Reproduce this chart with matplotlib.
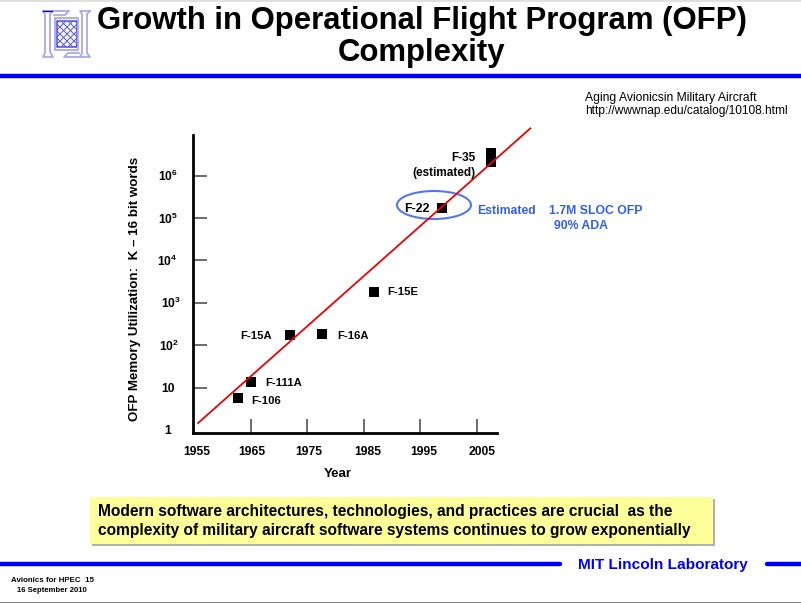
import numpy as np
import matplotlib
matplotlib.use("Agg")
import matplotlib.pyplot as plt
from matplotlib.patches import Ellipse, Rectangle

plt.rcParams["font.family"] = ["Liberation Sans", "DejaVu Sans"]
plt.rcParams["mathtext.fontset"] = "custom"
plt.rcParams["mathtext.bf"] = "Liberation Sans:bold"
plt.rcParams["mathtext.rm"] = "Liberation Sans:bold"

W, H = 801, 603

aircraft = ["F-106", "F-111A", "F-15A", "F-16A", "F-15E", "F-22"]
years = [1962.8, 1965.0, 1971.9, 1977.6, 1986.9, 1998.9]
memory = [5.7, 13.5, 174, 184, 1800, 172000]

f35_years = [2007.5, 2007.5]
f35_memory = [3500000, 2100000]

trend_years = [1955.7, 2014.5]
trend_memory = [1.46, 13000000]

x_ticks = [1955, 1965, 1975, 1985, 1995, 2005]
y_ticks = [1, 10, 100, 1000, 10000, 100000, 1000000]
y_labels = ["1", "10", r"$\mathbf{10^2}$", r"$\mathbf{10^3}$", r"$\mathbf{10^4}$",
            r"$\mathbf{10^5}$", r"$\mathbf{10^6}$"]

# label offsets from the marker, in pixels
label_pos = {
    "F-106": (13, -3, "left"),
    "F-111A": (15, -1, "left"),
    "F-15A": (-18, -1, "right"),
    "F-16A": (15, -2, "left"),
    "F-15E": (13, 0, "left"),
    "F-22": (-13, -1, "right"),
}
# the slide's tick labels drift right of their ticks, pixels
x_label_shift = [3, 1, 2, 4, 4, 5]
y_label_x = [-25, -25, -24, -22, -26, -25, -25]

BLUE = "#0000ff"
SOFT_BLUE = "#2f5ff0"

fig = plt.figure(figsize=(W / 100, H / 100), dpi=100)

# slide furniture, drawn in pixel coordinates
bg = fig.add_axes([0, 0, 1, 1])
bg.set_xlim(0, W)
bg.set_ylim(H, 0)
bg.axis("off")

bg.add_patch(Rectangle((0, 0), W, 2, color="#e0e0e0", lw=0))
bg.add_patch(Rectangle((0, 601.5), W, 1.5, color="#808080", lw=0))
bg.plot([0, W], [76, 76], color=BLUE, lw=3.2, solid_capstyle="butt")
bg.plot([0, 560], [564, 564], color=BLUE, lw=3.2, solid_capstyle="round")
bg.plot([767, W + 5], [564, 564], color=BLUE, lw=3.2, solid_capstyle="round")

# logo
pale = "#a8a8f0"
for pts in [
    [(43, 11), (53, 11), (50, 14), (50, 52), (53, 57), (43, 57), (45, 53), (45, 14), (43, 11)],
    [(90, 11), (80, 11), (82, 14), (82, 53), (80, 57), (90, 57), (87, 53), (87, 14), (90, 11)],
    [(53, 11), (69, 11), (65, 15), (54, 15)],
    [(80, 57), (64, 57), (68, 53), (79, 53)],
    [(55, 18), (78, 18), (78, 50), (55, 50), (55, 18)],
]:
    xs, ys = zip(*pts)
    bg.plot(xs, ys, color=pale, lw=1.3)
lattice_box = Rectangle((57, 21), 20, 26, fill=False, ec="#5050e8", lw=1.1)
bg.add_patch(lattice_box)
for k in range(-3, 4):
    for sign in [-1, 1]:
        ln, = bg.plot([57, 77], [34 + k * 7 - sign * 10, 34 + k * 7 + sign * 10],
                      color="#5050e8", lw=0.7)
        ln.set_clip_path(lattice_box)
bg.plot([43, 52], [11, 11], color=BLUE, lw=0.9)
bg.set_xlim(0, W)
bg.set_ylim(H, 0)

bg.text(421.5, 21, "Growth in Operational Flight Program (OFP)", fontsize=22.4, fontweight="bold",
        ha="center", va="center")
bg.text(421.5, 53.5, "Complexity", fontsize=22.4, fontweight="bold", ha="center", va="center")

bg.text(585, 98, "Aging Avionicsin Military Aircraft", fontsize=8.7, va="center")
bg.text(585, 111, "http://wwwnap.edu/catalog/10108.html", fontsize=8.6, va="center")

# callout box
bg.add_patch(Rectangle((92, 499), 623, 47, color="#b0b0b0", lw=0))
bg.add_patch(Rectangle((90, 497), 623, 47, color="#ffff99", lw=0))
bg.text(98, 511.5, "Modern software architectures, technologies, and practices are crucial  as the",
        fontsize=11.2, fontweight="bold", va="center")
bg.text(98, 531, "complexity of military aircraft software systems continues to grow exponentially",
        fontsize=11.2, fontweight="bold", va="center")

bg.text(662.5, 565, "MIT Lincoln Laboratory", color=BLUE, fontsize=11.1, fontweight="bold",
        ha="center", va="center")
bg.text(11, 580, "Avionics for HPEC  15", fontsize=5.7, fontweight="bold", va="center")
bg.text(17, 591, "16 September 2010", fontsize=5.6, fontweight="bold", va="center")

# F-22 callout
bg.add_patch(Ellipse((434, 205), 74, 28, fill=False, ec="#5577ee", lw=1.5))
bg.text(477, 211, "Estimated", color=SOFT_BLUE, fontsize=8.8, fontweight="bold", va="center")
bg.text(549, 211, "1.7M SLOC OFP", color=SOFT_BLUE, fontsize=8.8, fontweight="bold", va="center")
bg.text(554, 226, "90% ADA", color=SOFT_BLUE, fontsize=8.8, fontweight="bold", va="center")

# the chart itself
left, right, top, bottom = 193, 497, 135, 433
ax = fig.add_axes([left / W, 1 - bottom / H, (right - left) / W, (bottom - top) / H])
ax.patch.set_alpha(0)
ax.set_yscale("log")
ax.set_xlim(1954.8, 2008.6)
ax.set_ylim(10 ** (-3 / 42.4), 10 ** (295 / 42.4))

ax.plot(trend_years, trend_memory, color="#f00000", lw=1.3, clip_on=False, zorder=3)
ax.plot(years, memory, "s", color="black", ms=7, mew=0, zorder=2)
ax.plot(f35_years, f35_memory, "s", color="black", ms=7.6, mew=0, zorder=2)

for name, x, y in zip(aircraft, years, memory):
    dx, dy, ha = label_pos[name]
    ax.annotate(name, (x, y), xytext=(dx, dy), textcoords="offset pixels", ha=ha, va="center",
                fontsize=8.1 if name != "F-22" else 8.9, fontweight="bold")
ax.annotate("F-35\n(estimated)", (f35_years[0], f35_memory[0]), xytext=(-15, -13),
            textcoords="offset pixels", ha="right", va="center", fontsize=8.5,
            fontweight="bold", linespacing=1.25)

for side in ["top", "right"]:
    ax.spines[side].set_visible(False)
for side in ["left", "bottom"]:
    ax.spines[side].set_linewidth(2)

ax.set_xticks(x_ticks[1:])
ax.set_yticks(y_ticks[1:])
ax.minorticks_off()
ax.set_xticklabels([])
ax.set_yticklabels([])
ax.tick_params(axis="both", direction="in", length=10, width=1.3, color="#606060")

for v, shift in zip(x_ticks, x_label_shift):
    ax.annotate(str(v), (v, 10 ** (-3 / 42.4)), xytext=(shift, -19), textcoords="offset pixels",
                ha="center", va="center", fontsize=8.7, fontweight="bold", annotation_clip=False)
for v, lab, dx in zip(y_ticks, y_labels, y_label_x):
    ax.annotate(lab, (1954.8, v), xytext=(dx, -1), textcoords="offset pixels",
                ha="center", va="center", fontsize=8.7, fontweight="bold", annotation_clip=False)

bg.text(338, 474, "Year", fontsize=9.5, fontweight="bold", ha="center", va="center")
bg.text(135, 288.5, "OFP Memory Utilization:  K – 16 bit words", fontsize=9.6, fontweight="bold",
        rotation=90, ha="center", va="center")

fig.savefig("out.png", dpi=100)
